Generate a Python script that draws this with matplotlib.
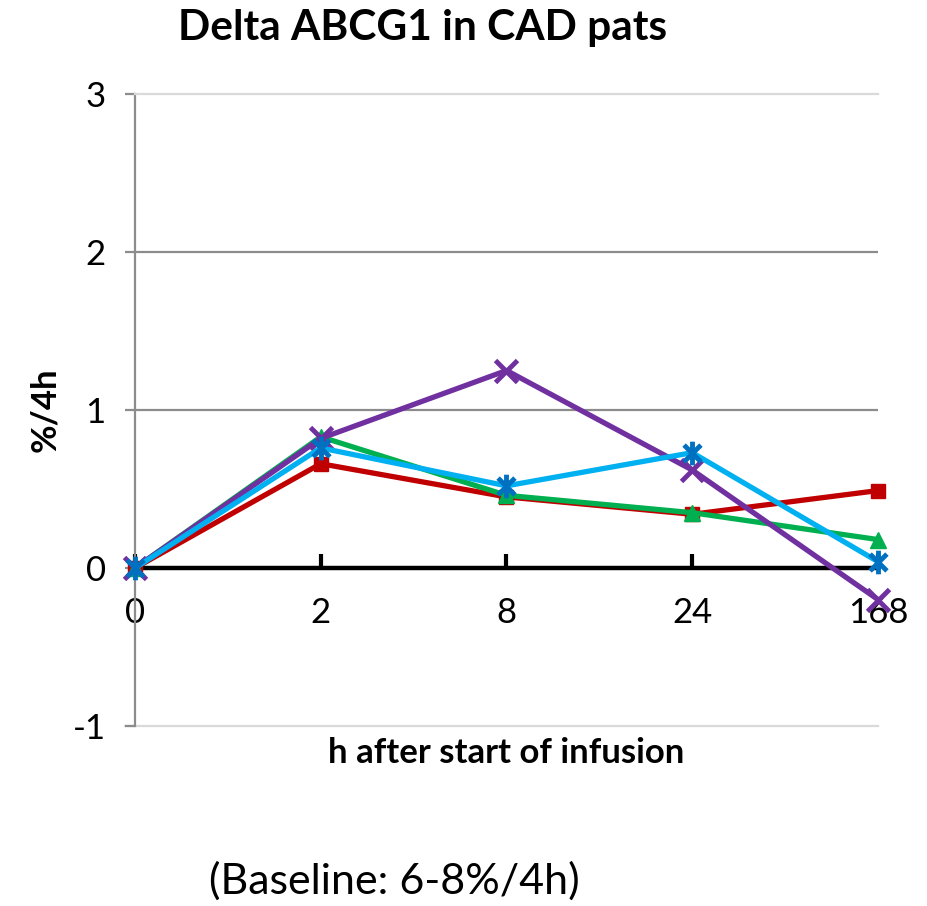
import matplotlib

matplotlib.use("Agg")
import matplotlib.pyplot as plt
from matplotlib.path import Path
import numpy as np

plt.rcParams["font.family"] = ["Lato", "DejaVu Sans"]
plt.rcParams["axes.unicode_minus"] = False

hours = ["0", "2", "8", "24", "168"]
red_sq = [0.0, 0.66, 0.45, 0.34, 0.49]
green_tri = [0.0, 0.83, 0.46, 0.35, 0.18]
purple_x = [0.0, 0.82, 1.25, 0.62, -0.20]
aqua_star = [0.0, 0.76, 0.52, 0.73, 0.04]

# asterisk marker: an x with a vertical bar through it
star_path = Path(
    [(-1, -1), (1, 1), (-1, 1), (1, -1), (0, -1.4), (0, 1.4)],
    [Path.MOVETO, Path.LINETO, Path.MOVETO, Path.LINETO, Path.MOVETO, Path.LINETO],
)

fig = plt.figure(figsize=(9.28, 9.06), dpi=100)
ax = fig.add_axes([135 / 928, 1 - 726 / 906, (878 - 135) / 928, (726 - 94) / 906])

x = np.arange(len(hours))
lw = 3.8
ax.plot(x, red_sq, color="#C00000", lw=lw, marker="s", ms=10, zorder=3, clip_on=False)
ax.plot(x, green_tri, color="#00B050", lw=lw, marker="^", ms=12, zorder=4, clip_on=False)
ax.plot(x, purple_x, color="#7030A0", lw=lw, marker="x", ms=16, mew=3.5, zorder=5, clip_on=False)
ax.plot(x, aqua_star, color="#00B0F0", lw=lw, marker=star_path, ms=17, mew=3.5,
        mec="#0070C0", zorder=6, clip_on=False)

ax.set_xlim(0, 4)
ax.set_ylim(-1, 3)

# grid and frame
for yv in (1, 2):
    ax.axhline(yv, color="#8C8C8C", lw=1.6, zorder=1)
ax.axhline(-1, xmin=-0.013, color="#D9D9D9", lw=1.6, zorder=1, clip_on=False)
ax.spines["top"].set_color("#D9D9D9")
ax.spines["top"].set_linewidth(1.6)
ax.spines["right"].set_visible(False)
ax.spines["left"].set_color("#8C8C8C")
ax.spines["left"].set_linewidth(1.6)
ax.spines["bottom"].set_position(("data", 0))
ax.spines["bottom"].set_color("black")
ax.spines["bottom"].set_linewidth(3.2)
ax.spines["bottom"].set_zorder(2)

ax.set_xticks(x)
ax.set_xticklabels(hours)
ax.set_yticks([-1, 0, 1, 2, 3])
ax.tick_params(axis="x", direction="in", length=10, width=3, color="black",
               pad=21, labelsize=25)
ax.tick_params(axis="y", direction="out", length=7, width=1.6, color="#8C8C8C",
               pad=14, labelsize=25)

fig.text(423 / 928, 1 - 28 / 906, "Delta ABCG1 in CAD pats", ha="center", va="center",
         fontsize=30.5, fontweight="bold")
fig.text(45 / 928, 1 - 410 / 906, "%/4h", ha="center", va="center", rotation=90,
         fontsize=25, fontweight="bold")
fig.text(506 / 928, 1 - 753 / 906, "h after start of infusion", ha="center", va="center",
         fontsize=25, fontweight="bold")
fig.text(394 / 928, 1 - 881 / 906, "(Baseline: 6-8%/4h)", ha="center", va="center",
         fontsize=31)

fig.savefig("out.png", dpi=100)
